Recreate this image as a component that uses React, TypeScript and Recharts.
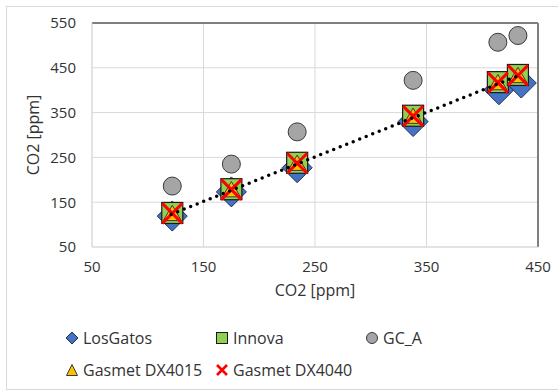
import {
  CartesianGrid,
  ReferenceLine,
  Scatter,
  ScatterChart,
  XAxis,
  YAxis,
} from 'recharts'

const xRef = [122, 175, 234, 338, 414, 432]
const losGatosX = [122, 175, 234, 338, 415, 435]
const losGatos = [119, 173, 227, 330, 401, 416]
const innova = [126, 179, 238, 343, 418, 434]
const gcA = [186, 235, 307, 422, 507, 522]
const dx4015 = [123, 176, 235, 340, 415, 431]
const dx4040 = [125, 178, 237, 342, 417, 433]
const trendX = [121, 432]
const trendY = [123, 432]

const xTicks = [50, 150, 250, 350, 450]
const yTicks = [50, 150, 250, 350, 450, 550]

const FONT = '"Open Sans", sans-serif'
const TEXT = '#333333'

const toPoints = (ys: number[], xs: number[] = xRef) => xs.map((x, i) => ({ x, y: ys[i] }))

type ShapeProps = { cx?: number; cy?: number }

function Diamond({ cx = 0, cy = 0 }: ShapeProps) {
  const r = 15
  return (
    <path
      d={`M${cx},${cy - r}L${cx + r},${cy}L${cx},${cy + r}L${cx - r},${cy}Z`}
      fill="#4472C4"
      stroke="#1f2f4f"
      strokeWidth={1}
    />
  )
}

function Square({ cx = 0, cy = 0 }: ShapeProps) {
  const h = 10.5
  return <rect x={cx - h} y={cy - h} width={h * 2} height={h * 2} fill="#92D050" stroke="#1a1a1a" strokeWidth={1.2} />
}

function Circle({ cx = 0, cy = 0 }: ShapeProps) {
  return <circle cx={cx} cy={cy} r={9} fill="#A5A5A5" stroke="#3a3a3a" strokeWidth={1} />
}

function Triangle({ cx = 0, cy = 0 }: ShapeProps) {
  const r = 9
  return (
    <path
      d={`M${cx},${cy - r}L${cx + r},${cy + r * 0.7}L${cx - r},${cy + r * 0.7}Z`}
      fill="#FFC000"
      stroke="#3a3a3a"
      strokeWidth={1}
    />
  )
}

function Cross({ cx = 0, cy = 0 }: ShapeProps) {
  const r = 10
  return (
    <path
      d={`M${cx - r},${cy - r}L${cx + r},${cy + r}M${cx + r},${cy - r}L${cx - r},${cy + r}`}
      stroke="#FF0000"
      strokeWidth={3}
    />
  )
}

function NoDot() {
  return <g />
}

const legendRows = [
  [
    { name: 'LosGatos', icon: 'diamond' },
    { name: 'Innova', icon: 'square' },
    { name: 'GC_A', icon: 'circle' },
  ],
  [
    { name: 'Gasmet DX4015', icon: 'triangle' },
    { name: 'Gasmet DX4040', icon: 'cross' },
  ],
]

function LegendIcon({ icon }: { icon: string }) {
  return (
    <svg width={14} height={14} viewBox="0 0 14 14" style={{ display: 'block' }}>
      {icon === 'diamond' && <path d="M7,1L13,7L7,13L1,7Z" fill="#4472C4" stroke="#1f2f4f" strokeWidth={1} />}
      {icon === 'square' && <rect x={1.5} y={1.5} width={11} height={11} fill="#92D050" stroke="#1a1a1a" strokeWidth={1} />}
      {icon === 'circle' && <circle cx={7} cy={7} r={5.5} fill="#A5A5A5" stroke="#3a3a3a" strokeWidth={1} />}
      {icon === 'triangle' && <path d="M7,1.5L12.5,12.5L1.5,12.5Z" fill="#FFC000" stroke="#3a3a3a" strokeWidth={1} />}
      {icon === 'cross' && <path d="M2,2L12,12M12,2L2,12" stroke="#FF0000" strokeWidth={2.6} />}
    </svg>
  )
}

export default function App() {
  const trend = trendX.map((x, i) => ({ x, y: trendY[i] }))

  return (
    <div style={{ position: 'absolute', left: 0, top: 0, width: 558, height: 390, background: '#fff', fontFamily: FONT }}>
      <div style={{ position: 'absolute', left: 6, top: 6, width: 560, height: 382, border: '1px solid #d9d9d9' }} />
      <ScatterChart width={558} height={390} margin={{ top: 23, right: 20, bottom: 113, left: 0 }}>
        <CartesianGrid stroke="#d9d9d9" strokeWidth={1} />
        <XAxis
          type="number"
          dataKey="x"
          domain={[50, 450]}
          ticks={xTicks}
          height={30}
          tickLine={false}
          tickMargin={8}
          axisLine={{ stroke: '#d9d9d9' }}
          tick={{ fill: TEXT, fontSize: 15, fontFamily: FONT }}
          label={{ value: 'CO2 [ppm]', position: 'bottom', offset: 8, fill: TEXT, fontSize: 16, fontFamily: FONT }}
        />
        <YAxis
          type="number"
          dataKey="y"
          domain={[50, 550]}
          ticks={yTicks}
          width={92}
          tickLine={false}
          tickMargin={10}
          axisLine={{ stroke: '#d9d9d9' }}
          tick={{ fill: TEXT, fontSize: 15, fontFamily: FONT }}
          label={{
            value: 'CO2 [ppm]',
            angle: -90,
            position: 'insideLeft',
            offset: 33,
            fill: TEXT,
            fontSize: 16,
            fontFamily: FONT,
            style: { textAnchor: 'middle' },
          }}
        />
        <ReferenceLine y={550} stroke="#7f7f7f" strokeWidth={2} />
        <ReferenceLine x={450} stroke="#7f7f7f" strokeWidth={2} />
        <Scatter name="LosGatos" data={toPoints(losGatos, losGatosX)} shape={Diamond} isAnimationActive={false} />
        <Scatter name="Innova" data={toPoints(innova)} shape={Square} isAnimationActive={false} />
        <Scatter name="GC_A" data={toPoints(gcA)} shape={Circle} isAnimationActive={false} />
        <Scatter name="Gasmet DX4015" data={toPoints(dx4015)} shape={Triangle} isAnimationActive={false} />
        <Scatter name="Gasmet DX4040" data={toPoints(dx4040)} shape={Cross} isAnimationActive={false} />
        <Scatter
          name="trend"
          data={trend}
          line={{ stroke: '#000', strokeWidth: 3.5, strokeDasharray: '0 7', strokeLinecap: 'round' }}
          shape={NoDot}
          isAnimationActive={false}
        />
      </ScatterChart>
      {legendRows.map((row, r) => (
        <div key={r} style={{ position: 'absolute', left: 65, top: 327 + r * 32, height: 22 }}>
          {row.map((item, i) => (
            <div
              key={item.name}
              style={{
                position: 'absolute',
                left: i * 150,
                top: 0,
                display: 'flex',
                alignItems: 'center',
                gap: 4,
                whiteSpace: 'nowrap',
                fontSize: 16,
                color: TEXT,
                lineHeight: '22px',
              }}
            >
              <LegendIcon icon={item.icon} />
              <span>{item.name}</span>
            </div>
          ))}
        </div>
      ))}
    </div>
  )
}
